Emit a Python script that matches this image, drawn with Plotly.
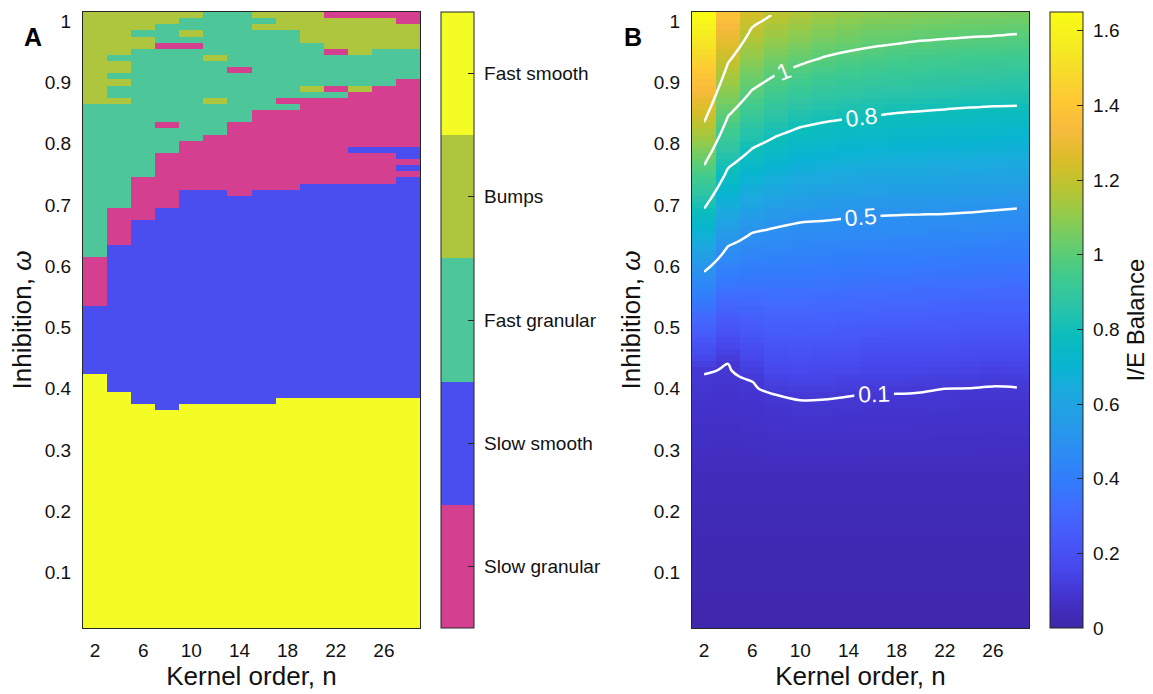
import numpy as np
import plotly.graph_objects as go

# ---------------- data ----------------
kernel_order = [2, 4, 6, 8, 10, 12, 14, 16, 18, 20, 22, 24, 26, 28]
omega = np.round(np.arange(1, 102) * 0.01, 2)          # row centres 0.01 .. 1.01

x_ticks = [2, 6, 10, 14, 18, 22, 26]
y_ticks = [0.1, 0.2, 0.3, 0.4, 0.5, 0.6, 0.7, 0.8, 0.9, 1.0]
y_tick_text = ["0.1", "0.2", "0.3", "0.4", "0.5", "0.6", "0.7", "0.8", "0.9", "1"]

# Panel A: regimes (index 0..4 from bottom of the colourbar)
regime_names = ["Slow granular", "Slow smooth", "Fast granular", "Bumps", "Fast smooth"]
regime_colors = ["#D4408F", "#4B4EEE", "#4DC799", "#ADC63E", "#F3FC24"]
SG, SS, FG, BU, FS = 0, 1, 2, 3, 4

# runs per kernel order from the bottom up: (regime, upper omega edge)
regime_runs = {
    2:  [(FS, .425), (SS, .535), (SG, .615), (FG, .865), (BU, 9)],
    4:  [(FS, .395), (SS, .635), (SG, .695), (FG, .865), (BU, .875), (FG, .895), (BU, .905),
         (FG, .915), (BU, .935), (FG, .945), (BU, 9)],
    6:  [(FS, .375), (SS, .675), (SG, .745), (FG, .955), (BU, .975), (FG, .985), (BU, 9)],
    8:  [(FS, .365), (SS, .695), (SG, .785), (FG, .825), (SG, .835), (FG, .955), (SG, .965),
         (FG, .995), (BU, 9)],
    10: [(FS, .375), (SS, .725), (SG, .805), (FG, .955), (SG, .965), (FG, .975), (BU, .985),
         (FG, 1.005), (BU, 9)],
    12: [(FS, .375), (SS, .725), (SG, .815), (FG, .865), (BU, .875), (FG, .935), (BU, .945), (FG, 9)],
    14: [(FS, .375), (SS, .715), (SG, .835), (FG, .915), (SG, .925), (FG, 9)],
    16: [(FS, .375), (SS, .725), (SG, .855), (FG, .985), (BU, .995), (FG, 1.005), (BU, 9)],
    18: [(FS, .385), (SS, .725), (SG, .855), (FG, .865), (SG, .875), (FG, .985), (BU, 9)],
    20: [(FS, .385), (SS, .735), (SG, .875), (FG, .885), (BU, .895), (FG, .965), (BU, 9)],
    22: [(FS, .385), (SS, .735), (SG, .875), (FG, .885), (SG, .895), (FG, .945), (SG, .955),
         (BU, 1.005), (SG, 9)],
    24: [(FS, .385), (SS, .735), (SG, .785), (SS, .795), (SG, .885), (BU, .895), (FG, .945),
         (BU, 1.005), (SG, 9)],
    26: [(FS, .385), (SS, .735), (SG, .785), (SS, .795), (SG, .895), (FG, .955), (BU, 1.005), (SG, 9)],
    28: [(FS, .385), (SS, .745), (SG, .755), (SS, .765), (SG, .775), (SS, .795), (SG, .905),
         (FG, .955), (BU, .995), (SG, 9)],
}

# Panel B: I/E balance, read as the omega where each level is crossed, per kernel order
ie_levels = [0.1, 0.5, 0.8, 1.0, 1.2]
ie_w01 = [0.428, 0.443, 0.415, 0.390, 0.383, 0.385, 0.389, 0.394, 0.394, 0.397, 0.400, 0.402, 0.407, 0.405]
ie_w05 = [0.591, 0.633, 0.655, 0.664, 0.672, 0.675, 0.679, 0.682, 0.684, 0.685, 0.686, 0.688, 0.691, 0.695]
ie_w08 = [0.694, 0.760, 0.792, 0.812, 0.827, 0.835, 0.841, 0.845, 0.850, 0.853, 0.856, 0.859, 0.861, 0.862]
ie_w10 = [0.765, 0.845, 0.888, 0.913, 0.929, 0.942, 0.951, 0.958, 0.963, 0.968, 0.971, 0.974, 0.976, 0.979]
ie_w12 = [0.835, 0.932, 0.990, None, None, None, None, None, None, None, None, None, None, None]
ie_top = [1.65, 1.38, 1.24, 1.19, 1.16, 1.13, 1.11, 1.09, 1.085, 1.075, 1.068, 1.063, 1.06, 1.053]
ie_bottom = [0.01] * 14          # value at omega = 0.01
ie_low = [0.04] * 14             # value at omega = 0.25

# ---------------- tables ----------------
zA = np.zeros((len(omega), len(kernel_order)))
for j, n in enumerate(kernel_order):
    for i, w in enumerate(omega):
        for reg, top in regime_runs[n]:
            if w < top:
                zA[i, j] = reg
                break

zB = np.zeros((len(omega), len(kernel_order)))
for j in range(len(kernel_order)):
    kw = [0.01, 0.25, ie_w01[j], ie_w05[j], ie_w08[j], ie_w10[j]]
    kz = [ie_bottom[j], ie_low[j], 0.1, 0.5, 0.8, 1.0]
    if ie_w12[j] is not None:
        kw.append(ie_w12[j]); kz.append(1.2)
    kw.append(1.01); kz.append(ie_top[j])
    zB[:, j] = np.interp(omega, kw, kz)

# discrete colourscale for regimes
cs_A = []
for k, c in enumerate(regime_colors):
    cs_A.append([k / 5, c])
    cs_A.append([(k + 1) / 5, c])

parula = [
    [0.2422, 0.1504, 0.6603], [0.2647, 0.1978, 0.7952], [0.2803, 0.2782, 0.9221],
    [0.2795, 0.3447, 0.9717], [0.2602, 0.4123, 0.9952], [0.1963, 0.4847, 0.9892],
    [0.1764, 0.5499, 0.9520], [0.1460, 0.6091, 0.9079], [0.1113, 0.6635, 0.8763],
    [0.0297, 0.7082, 0.8163], [0.0433, 0.7411, 0.7394], [0.1717, 0.7670, 0.6554],
    [0.2470, 0.7918, 0.5567], [0.3909, 0.8029, 0.4354], [0.5616, 0.7942, 0.3045],
    [0.7242, 0.7698, 0.1910], [0.8634, 0.7406, 0.1596], [0.9728, 0.7298, 0.2394],
    [0.9952, 0.7893, 0.2028], [0.9676, 0.8639, 0.1643], [0.9628, 0.9373, 0.1265],
    [0.9769, 0.9839, 0.0805],
]
cs_B = [[i / (len(parula) - 1), "rgb(%d,%d,%d)" % tuple(int(round(v * 255)) for v in c)]
        for i, c in enumerate(parula)]

FONT = "Liberation Sans, Arial, Helvetica, sans-serif"
INK = "#262626"
TXT = "#111111"
W, H = 1153, 694
TOP, BOT = 12, 628
PAD = "\u00a0"   # small gap between colourbar and its labels

fig = go.Figure()

cb_common = dict(y=(H - BOT) / H, yanchor="bottom", len=(BOT - TOP) / H, lenmode="fraction",
                 thickness=33, thicknessmode="pixels", xpad=0, ypad=0,
                 outlinewidth=1, outlinecolor=INK, ticks="inside", ticklen=6, tickcolor=INK,
                 tickfont=dict(family=FONT, size=19, color=TXT))

fig.add_trace(go.Heatmap(
    x=kernel_order, y=omega, z=zA, colorscale=cs_A, zmin=-0.5, zmax=4.5,
    xaxis="x", yaxis="y", hoverinfo="skip",
    colorbar=dict(cb_common, x=441 / W, xanchor="left",
                  tickvals=[0, 1, 2, 3, 4], ticktext=[PAD + s for s in regime_names]),
))

cb_ticks = [0, 0.2, 0.4, 0.6, 0.8, 1.0, 1.2, 1.4, 1.6]
cb_text = ["0", "0.2", "0.4", "0.6", "0.8", "1", "1.2", "1.4", "1.6"]

fig.add_trace(go.Heatmap(
    x=kernel_order, y=omega, z=zB, colorscale=cs_B, zmin=0, zmax=1.65,
    xaxis="x2", yaxis="y2", hoverinfo="skip",
    colorbar=dict(cb_common, x=1050 / W, xanchor="left",
                  tickvals=cb_ticks, ticktext=[PAD + s for s in cb_text],
                  title=dict(text="I/E Balance", side="right",
                             font=dict(family=FONT, size=24, color=TXT))),
))

for lv in ie_levels:
    fig.add_trace(go.Contour(
        x=kernel_order, y=omega, z=zB, xaxis="x2", yaxis="y2",
        contours=dict(start=lv, end=lv, size=1, coloring="none", showlabels=True,
                      labelfont=dict(family=FONT, size=23, color="white")),
        line=dict(color="white", width=2.5), showscale=False, hoverinfo="skip",
    ))

axis_common = dict(showline=True, mirror=True, linecolor=INK, linewidth=1, ticks="",
                   showgrid=False, zeroline=False,
                   tickfont=dict(family=FONT, size=19, color=TXT))

xa = dict(axis_common, range=[1, 29], tickvals=x_ticks, ticklabelstandoff=5,
          title=dict(text="Kernel order, n", font=dict(family=FONT, size=26, color=TXT), standoff=3))
ya = dict(axis_common, range=[0.0095, 1.015], tickvals=y_ticks, ticktext=y_tick_text, ticklabelstandoff=7,
          title=dict(text="Inhibition, <i>ω</i>", font=dict(family=FONT, size=26, color=TXT), standoff=5))

fig.update_layout(
    width=W, height=H, margin=dict(l=0, r=0, t=0, b=0),
    paper_bgcolor="white", plot_bgcolor="white", showlegend=False,
    xaxis=dict(xa, domain=[83 / W, 420 / W], anchor="y"),
    yaxis=dict(ya, domain=[(H - BOT) / H, (H - TOP) / H], anchor="x"),
    xaxis2=dict(xa, domain=[692 / W, 1029 / W], anchor="y2"),
    yaxis2=dict(ya, domain=[(H - BOT) / H, (H - TOP) / H], anchor="x2"),
    annotations=[
        dict(text="<b>A</b>", x=33 / W, y=1 - 37 / H, xref="paper", yref="paper",
             xanchor="center", yanchor="middle",
             showarrow=False, font=dict(family=FONT, size=25, color="black")),
        dict(text="<b>B</b>", x=633 / W, y=1 - 37 / H, xref="paper", yref="paper",
             xanchor="center", yanchor="middle",
             showarrow=False, font=dict(family=FONT, size=25, color="black")),
    ],
)

fig.write_html("out.html")
